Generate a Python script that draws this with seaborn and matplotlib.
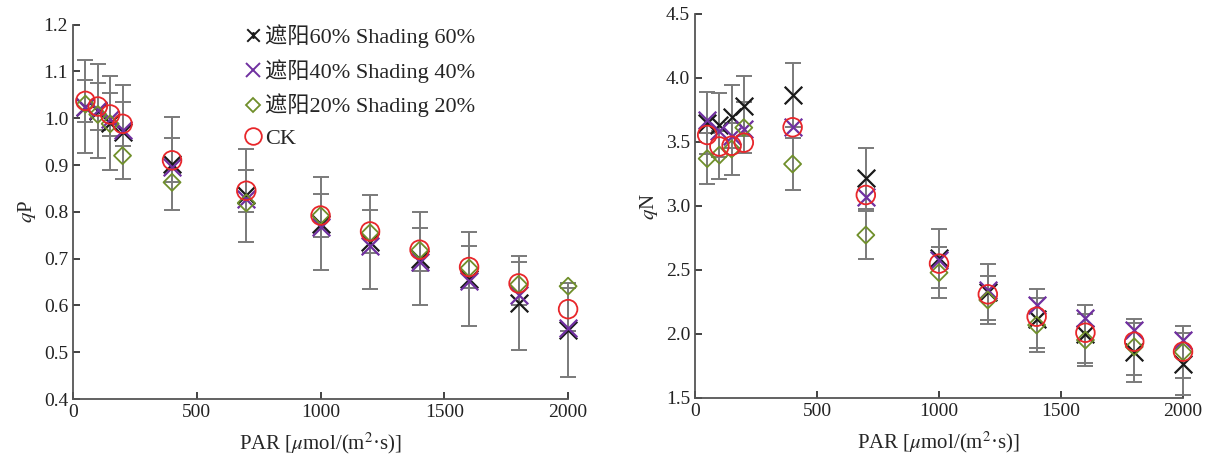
import matplotlib
matplotlib.use("Agg")
import matplotlib.pyplot as plt
import seaborn as sns
import pandas as pd
from matplotlib.lines import Line2D
from matplotlib.path import Path

# PAR levels
par = [50, 100, 150, 200, 400, 700, 1000, 1200, 1400, 1600, 1800, 2000]

# qP
qp_s60 = [1.025, 1.015, 0.99, 0.97, 0.903, 0.835, 0.775, 0.735, 0.70, 0.657, 0.605, 0.548]
qp_s40 = [1.025, 1.018, 0.998, 0.975, 0.895, 0.828, 0.768, 0.727, 0.693, 0.652, 0.622, 0.552]
qp_s20 = [1.03, 1.008, 0.988, 0.92, 0.863, 0.819, 0.792, 0.755, 0.718, 0.68, 0.645, 0.641]
qp_ck = [1.037, 1.025, 1.008, 0.988, 0.91, 0.845, 0.792, 0.758, 0.719, 0.682, 0.647, 0.592]
qp_s60_err = [0.1, 0.1, 0.1, 0.1, 0.1, 0.1, 0.1, 0.1, 0.1, 0.1, 0.1, 0.1]
qp_ck_err = [0.045, 0.05, 0.046, 0.047, 0.047, 0.045, 0.045, 0.045, 0.046, 0.045, 0.046, 0.046]

# qN
qn_s60 = [3.65, 3.63, 3.698, 3.781, 3.867, 3.216, 2.59, 2.33, 2.12, 2.0, 1.857, 1.766]
qn_s40 = [3.672, 3.585, 3.547, 3.60, 3.62, 3.07, 2.58, 2.344, 2.227, 2.122, 2.031, 1.953]
qn_s20 = [3.37, 3.398, 3.445, 3.612, 3.328, 2.773, 2.479, 2.266, 2.07, 1.953, 1.9, 1.86]
qn_ck = [3.555, 3.465, 3.471, 3.495, 3.615, 3.086, 2.55, 2.31, 2.135, 2.01, 1.94, 1.862]
qn_s60_err = [0.24, 0.25, 0.247, 0.237, 0.248, 0.24, 0.23, 0.22, 0.23, 0.23, 0.23, 0.24]
qn_s20_err = [0.2, 0.19, 0.2, 0.2, 0.2, 0.19, 0.2, 0.19, 0.21, 0.2, 0.22, 0.2]

labels = ["遮阳60% Shading 60%", "遮阳40% Shading 40%", "遮阳20% Shading 20%", "CK"]
colors = ["#1a1a1a", "#7030a0", "#6f8f2a", "#e8262a"]

sns.set_style("ticks")
plt.rcParams["font.family"] = ["Liberation Serif", "Noto Sans CJK SC"]
plt.rcParams["mathtext.fontset"] = "stix"

# x with a short vertical bar, like the legend glyph
star = Path([(-1, -1), (1, 1), (-1, 1), (1, -1), (0, -0.55), (0, 0.55)],
            [Path.MOVETO, Path.LINETO, Path.MOVETO, Path.LINETO, Path.MOVETO, Path.LINETO])


def draw(ax, series, errs):
    for y, e in errs:
        ax.errorbar(par, y, yerr=e, fmt="none", ecolor="#7a7a7a", elinewidth=1.4,
                    capsize=6, capthick=1.4, zorder=1, clip_on=False)
    df = pd.DataFrame({"PAR": par})
    for i, y in enumerate(series):
        df["v"] = y
        if i in (0, 1):
            sns.scatterplot(data=df, x="PAR", y="v", marker="x", color=colors[i],
                            s=160, linewidth=1.6, ax=ax, zorder=3, legend=False, clip_on=False)
        elif i == 2:
            sns.scatterplot(data=df, x="PAR", y="v", marker="D", facecolor="none",
                            edgecolor=colors[i], s=75, linewidth=1.3, ax=ax, zorder=3,
                            legend=False, clip_on=False)
        else:
            sns.scatterplot(data=df, x="PAR", y="v", marker="o", facecolor="none",
                            edgecolor=colors[i], s=180, linewidth=1.3, ax=ax, zorder=4,
                            legend=False, clip_on=False)


fig = plt.figure(figsize=(12.11, 4.59), dpi=100)
ax1 = fig.add_axes([0.0603, 0.1307, 0.4088, 0.8157])
ax2 = fig.add_axes([0.5739, 0.1329, 0.4030, 0.8366])

draw(ax1, [qp_s60, qp_s40, qp_s20, qp_ck], [(qp_s60, qp_s60_err), (qp_ck, qp_ck_err)])
draw(ax2, [qn_s60, qn_s40, qn_s20, qn_ck], [(qn_s60, qn_s60_err), (qn_s20, qn_s20_err)])

ax1.set_ylim(0.4, 1.2)
ax1.set_yticks([0.4, 0.5, 0.6, 0.7, 0.8, 0.9, 1.0, 1.1, 1.2])
ax1.set_yticklabels([f"{v:.1f}" for v in ax1.get_yticks()])
ax1.set_ylabel("$q$P", fontsize=15, labelpad=4)

ax2.set_ylim(1.5, 4.5)
ax2.set_yticks([1.5, 2.0, 2.5, 3.0, 3.5, 4.0, 4.5])
ax2.set_yticklabels([f"{v:.1f}" for v in ax2.get_yticks()])
ax2.set_ylabel("$q$N", fontsize=15, labelpad=4)

for ax in (ax1, ax2):
    ax.set_xlim(0, 2000)
    ax.set_xticks([0, 500, 1000, 1500, 2000])
    ax.set_xlabel("PAR [$\\mu$mol/(m$^2$·s)]", fontsize=15, labelpad=7)
    ax.tick_params(direction="in", length=5, width=1.2, labelsize=14, colors="#222222")
    for sp in ("top", "right"):
        ax.spines[sp].set_visible(False)
    for sp in ("left", "bottom"):
        ax.spines[sp].set_linewidth(1.3)
        ax.spines[sp].set_color("#555555")

handles = [
    Line2D([], [], ls="none", marker=star, color=colors[0], markersize=9, markeredgewidth=1.4),
    Line2D([], [], ls="none", marker="x", color=colors[1], markersize=10, markeredgewidth=1.4),
    Line2D([], [], ls="none", marker="D", markerfacecolor="none", markeredgecolor=colors[2],
           markersize=7, markeredgewidth=1.3),
    Line2D([], [], ls="none", marker="o", markerfacecolor="none", markeredgecolor=colors[3],
           markersize=12, markeredgewidth=1.3),
]
ax1.legend(handles, labels, loc="upper left", bbox_to_anchor=(0.305, 1.055), frameon=False,
           fontsize=16, handlelength=0.8, handletextpad=0.15, labelspacing=0.5)

fig.savefig("out.png", dpi=100)
